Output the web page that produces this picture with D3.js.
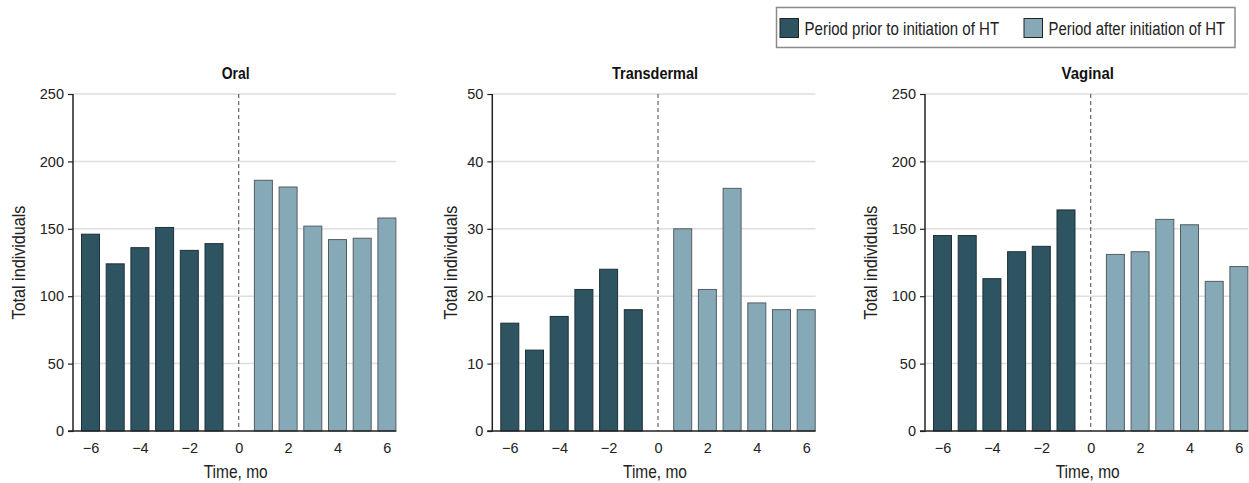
<!DOCTYPE html>
<html>
<head>
<meta charset="utf-8">
<script src="https://cdn.jsdelivr.net/npm/d3@7"></script>
<style>
  html, body { margin: 0; padding: 0; background: #fff; }
  svg { display: block; font-family: "Liberation Sans", Arial, sans-serif; }
</style>
</head>
<body>
<svg id="chart" width="1249" height="483"></svg>
<script>
// ---- Data ----
const months = [-6, -5, -4, -3, -2, -1, 1, 2, 3, 4, 5, 6];
const xTickValues = [-6, -4, -2, 0, 2, 4, 6];
const panelTitles = ["Oral", "Transdermal", "Vaginal"];
const oralValues = [146, 124, 136, 151, 134, 139, 186, 181, 152, 142, 143, 158];
const transdermalValues = [16, 12, 17, 21, 24, 18, 30, 21, 36, 19, 18, 18];
const vaginalValues = [145, 145, 113, 133, 137, 164, 131, 133, 157, 153, 111, 122];
const oralTicks = [0, 50, 100, 150, 200, 250];
const transdermalTicks = [0, 10, 20, 30, 40, 50];
const vaginalTicks = [0, 50, 100, 150, 200, 250];
const legendLabels = ["Period prior to initiation of HT", "Period after initiation of HT"];
const xAxisTitle = "Time, mo";
const yAxisTitle = "Total individuals";

// ---- Style / layout ----
const FONT = "'Liberation Sans', Arial, sans-serif";
const colors = { prior: "#2e5461", after: "#86a9b8" };
const strokes = { prior: "#1e3038", after: "#555c60" };
const panelsLayout = [
  { axisX: 73, yTitleBase: 25, titleW: 28 },
  { axisX: 492.3, yTitleBase: 457.3, titleW: 86 },
  { axisX: 925, yTitleBase: 876.7, titleW: 52.3 }
];
const yTop = 94, yBottom = 431;
const unit = 24.7;
const barW = 18;

const panels = [
  { title: panelTitles[0], values: oralValues, ticks: oralTicks },
  { title: panelTitles[1], values: transdermalValues, ticks: transdermalTicks },
  { title: panelTitles[2], values: vaginalValues, ticks: vaginalTicks }
];

const svg = d3.select("#chart");

// place text at (tx,ty) with extra transform, then condense horizontally to target width
function fitText(sel, tx, ty, extra, targetW) {
  sel.attr("x", 0).attr("y", 0).attr("transform", `translate(${tx},${ty}) ${extra}`);
  const w = sel.node().getComputedTextLength();
  const k = w > 0 ? targetW / w : 1;
  sel.attr("transform", `translate(${tx},${ty}) ${extra} scale(${k},1)`);
  return sel;
}

panels.forEach((p, i) => {
  const L = panelsLayout[i];
  const zero = L.axisX + 165.7;
  const rightEnd = zero + 157.5;
  const x = d3.scaleLinear().domain([-6, 6]).range([zero - 6 * unit, zero + 6 * unit]);
  const y = d3.scaleLinear().domain([0, d3.max(p.ticks)]).range([yBottom, yTop]);
  const g = svg.append("g");

  // gridlines
  g.selectAll("line.grid").data(p.ticks.filter(t => t > 0)).join("line")
    .attr("x1", L.axisX).attr("x2", rightEnd)
    .attr("y1", d => y(d)).attr("y2", d => y(d))
    .attr("stroke", "#dedede").attr("stroke-width", 1.5);

  // dashed zero line
  g.append("line")
    .attr("x1", x(0)).attr("x2", x(0))
    .attr("y1", y(d3.max(p.ticks))).attr("y2", y(0))
    .attr("stroke", "#666").attr("stroke-width", 1.2)
    .attr("stroke-dasharray", "4,3");

  // bars
  const data = months.map((m, j) => ({ m, v: p.values[j] }));
  g.selectAll("rect.bar").data(data).join("rect")
    .attr("x", d => x(d.m) - barW / 2)
    .attr("width", barW)
    .attr("y", d => y(d.v))
    .attr("height", d => y(0) - y(d.v))
    .attr("fill", d => d.m < 0 ? colors.prior : colors.after)
    .attr("stroke", d => d.m < 0 ? strokes.prior : strokes.after)
    .attr("stroke-width", 1);

  // y axis
  const yAxis = d3.axisLeft(y).tickValues(p.ticks).tickSize(5).tickPadding(4)
    .tickFormat(d3.format("d"));
  const ya = g.append("g").attr("transform", `translate(${L.axisX},0)`).call(yAxis);
  ya.select(".domain").remove();
  ya.selectAll(".tick line").attr("stroke", "#222").attr("stroke-width", 1.2);
  ya.selectAll(".tick text").attr("font-size", 14.5).attr("fill", "#222")
    .attr("font-family", FONT);
  g.append("line").attr("x1", L.axisX).attr("x2", L.axisX)
    .attr("y1", yTop).attr("y2", yBottom + 0.7)
    .attr("stroke", "#222").attr("stroke-width", 1.5);

  // x axis
  const xAxis = d3.axisBottom(x).tickValues(xTickValues).tickSize(0).tickPadding(11.5)
    .tickFormat(d3.format("d"));
  const xa = g.append("g").attr("transform", `translate(0,${yBottom})`).call(xAxis);
  xa.select(".domain").remove();
  xa.selectAll(".tick text").attr("font-size", 14.5).attr("fill", "#222")
    .attr("font-family", FONT);
  g.append("line").attr("x1", L.axisX - 5).attr("x2", rightEnd)
    .attr("y1", yBottom).attr("y2", yBottom)
    .attr("stroke", "#222").attr("stroke-width", 1.5);

  // titles
  const t = g.append("text").attr("text-anchor", "middle").attr("font-size", 16.8)
    .attr("font-weight", "bold").attr("fill", "#111").text(p.title);
  fitText(t, zero - 3, 79.3, "", L.titleW);

  const xt = g.append("text").attr("text-anchor", "middle").attr("font-size", 17.5)
    .attr("fill", "#222").text(xAxisTitle);
  fitText(xt, zero - 3, 478.3, "", 64);

  const yt = g.append("text").attr("text-anchor", "middle").attr("font-size", 18)
    .attr("fill", "#222").text(yAxisTitle);
  fitText(yt, L.yTitleBase, 262.5, "rotate(-90)", 114);
});

// legend
const lg = svg.append("g");
lg.append("rect").attr("x", 776.5).attr("y", 7.5).attr("width", 458.5).attr("height", 40)
  .attr("fill", "#fff").attr("stroke", "#8a8a8a").attr("stroke-width", 1.5);
const legendItems = [
  { label: legendLabels[0], fill: colors.prior, x: 780, w: 194.7 },
  { label: legendLabels[1], fill: colors.after, x: 1024, w: 176.7 }
];
legendItems.forEach(it => {
  lg.append("rect").attr("x", it.x).attr("y", 18.5).attr("width", 18.5).attr("height", 19)
    .attr("fill", it.fill).attr("stroke", "#222").attr("stroke-width", 1);
  const tx = lg.append("text").attr("font-size", 19).attr("fill", "#222").text(it.label);
  fitText(tx, it.x + 24.5, 35, "", it.w);
});
</script>
</body>
</html>
